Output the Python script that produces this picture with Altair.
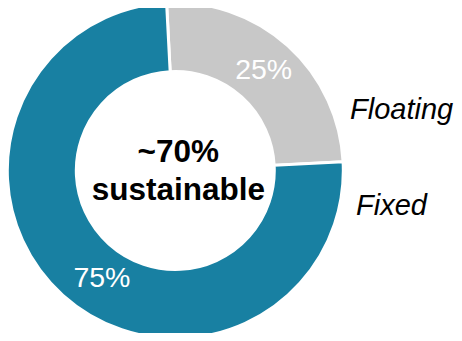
import math
import altair as alt
import pandas as pd

categories = ["Floating", "Fixed"]
shares = [25, 75]
share_labels = ["25%", "75%"]
colors = ["#c8c8c8", "#1880a2"]
center_lines = ["~70%", "sustainable"]

df = pd.DataFrame({
    "category": categories,
    "share": shares,
    "label": share_labels,
    "order": list(range(len(categories))),
})

CX, CY = 167.3, 162.5
start = -0.052
theta_scale = alt.Scale(domain=[0, 100], range=[start, start + 2 * math.pi])
color_scale = alt.Scale(domain=categories, range=colors)
FONT = "Liberation Sans"

arcs = alt.Chart(df).mark_arc(
    outerRadius=168, innerRadius=99, stroke="white", strokeWidth=3
).encode(
    theta=alt.Theta("share:Q", stack=True, scale=theta_scale),
    order=alt.Order("order:Q"),
    color=alt.Color("category:N", scale=color_scale, legend=None),
    x=alt.value(CX),
    y=alt.value(CY),
)


def pct_label(cat, dx, dy):
    return alt.Chart(df).transform_stack(
        stack="share", as_=["s0", "s1"], groupby=[], sort=[alt.SortField("order")]
    ).transform_calculate(
        mid="(datum.s0 + datum.s1) / 2"
    ).transform_filter(
        alt.datum.category == cat
    ).mark_text(
        radius=132, fontSize=28.5, font=FONT, color="white", dx=dx, dy=dy
    ).encode(
        theta=alt.Theta("mid:Q", stack=None, scale=theta_scale),
        text="label:N",
        x=alt.value(CX),
        y=alt.value(CY),
    )


floating_pct = pct_label("Floating", 0, -2)
fixed_pct = pct_label("Fixed", 15, 9)

center = alt.Chart(pd.DataFrame({"t": [0]})).mark_text(
    fontSize=31.5, fontWeight="bold", font=FONT, color="black",
    align="center", baseline="alphabetic", lineHeight=38,
).encode(
    text=alt.value(center_lines),
    x=alt.value(CX + 3),
    y=alt.value(154),
)

floating_lbl = alt.Chart(df).transform_filter(
    alt.datum.category == "Floating"
).mark_text(
    fontSize=29, fontStyle="italic", font=FONT, color="black",
    align="left", baseline="alphabetic",
).encode(text="category:N", x=alt.value(342), y=alt.value(111))

fixed_lbl = alt.Chart(df).transform_filter(
    alt.datum.category == "Fixed"
).mark_text(
    fontSize=29, fontStyle="italic", font=FONT, color="black",
    align="left", baseline="alphabetic",
).encode(text="category:N", x=alt.value(348), y=alt.value(207))

chart = alt.layer(
    arcs, floating_pct, fixed_pct, center, floating_lbl, fixed_lbl
).properties(
    width=446, height=325, padding=0, autosize="none"
).configure_view(stroke=None)

chart.save("out.html", embed_options={"renderer": "svg", "actions": False})
